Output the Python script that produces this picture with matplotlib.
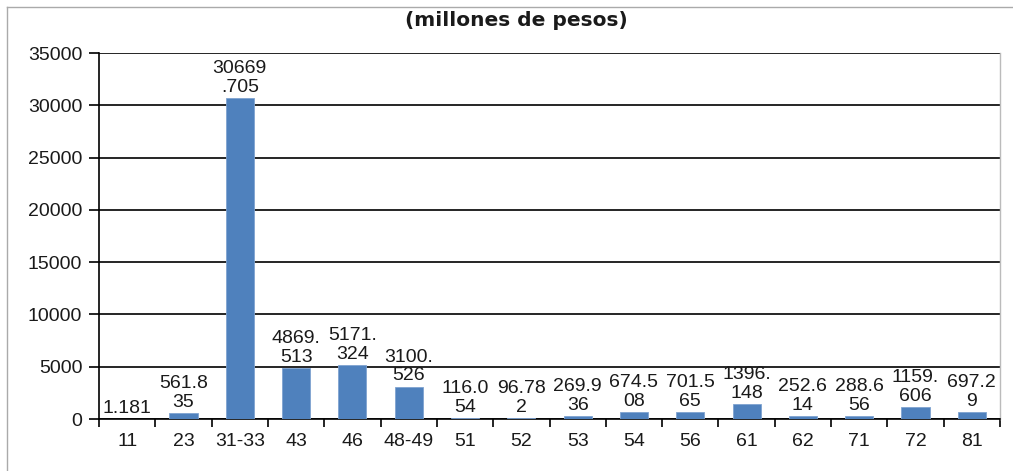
import matplotlib
matplotlib.use("Agg")
import matplotlib.pyplot as plt
from matplotlib.lines import Line2D
import numpy as np

categories = ["11", "23", "31-33", "43", "46", "48-49", "51", "52", "53", "54",
              "56", "61", "62", "71", "72", "81"]
value_text = ["1.181", "561.835", "30669.705", "4869.513", "5171.324", "3100.526",
              "116.054", "96.782", "269.936", "674.508", "701.565", "1396.148",
              "252.614", "288.656", "1159.606", "697.29"]
values = [float(v) for v in value_text]
yticks = [0, 5000, 10000, 15000, 20000, 25000, 30000, 35000]
title = "(millones de pesos)"

W, H = 1013, 471
fig = plt.figure(figsize=(W / 100, H / 100), dpi=100)
ax = fig.add_axes([99 / W, 1 - 419 / H, (1000 - 99) / W, (419 - 53) / H])

x = np.arange(len(categories))
ax.bar(x, values, width=0.5, color="#4F81BD", edgecolor="#7FA3D0", linewidth=0.6, zorder=3)

FONT = "Liberation Sans"
FS = 14
for xi, t, v in zip(x, value_text, values):
    lbl = "\n".join(t[i:i + 5] for i in range(0, len(t), 5))
    ax.annotate(lbl, (xi, v), xytext=(0, 1.5), textcoords="offset points",
                ha="center", va="bottom", fontsize=FS, family=FONT,
                linespacing=1.15, color="#1a1a1a", zorder=4)

ax.set_xlim(-0.5, len(categories) - 0.5)
ax.set_ylim(0, 35000)
ax.set_yticks(yticks)
ax.set_yticklabels([str(t) for t in yticks], fontsize=FS, family=FONT, color="#1a1a1a")
ax.set_xticks(x)
ax.set_xticklabels(categories, fontsize=FS, family=FONT, color="#1a1a1a")
ax.set_xticks(np.arange(-0.5, len(categories)), minor=True)
ax.tick_params(axis="x", which="major", length=0, pad=10)
ax.tick_params(axis="x", which="minor", length=6, width=1.2, color="black", direction="out")
ax.tick_params(axis="y", which="major", length=7, width=1.2, color="black", pad=5)

ax.yaxis.grid(True, color="black", linewidth=1.2, zorder=0)
ax.set_axisbelow(True)
ax.spines["top"].set_visible(False)
ax.spines["right"].set_color("#bbbbbb")
ax.spines["right"].set_linewidth(1.0)
ax.spines["left"].set_color("black")
ax.spines["left"].set_linewidth(1.2)
ax.spines["bottom"].set_color("black")
ax.spines["bottom"].set_linewidth(1.2)

fig.text(516 / W, 1 - 20 / H, title, ha="center", va="center",
         fontsize=14.5, fontweight="bold", family="DejaVu Sans", color="#1a1a1a")

# outer chart frame (top and left edges visible)
fig.add_artist(Line2D([7 / W, 1.0], [1 - 7 / H, 1 - 7 / H], transform=fig.transFigure,
                      color="#aaaaaa", linewidth=1.0))
fig.add_artist(Line2D([7 / W, 7 / W], [0.0, 1 - 7 / H], transform=fig.transFigure,
                      color="#aaaaaa", linewidth=1.0))

fig.savefig("out.png", dpi=100)
